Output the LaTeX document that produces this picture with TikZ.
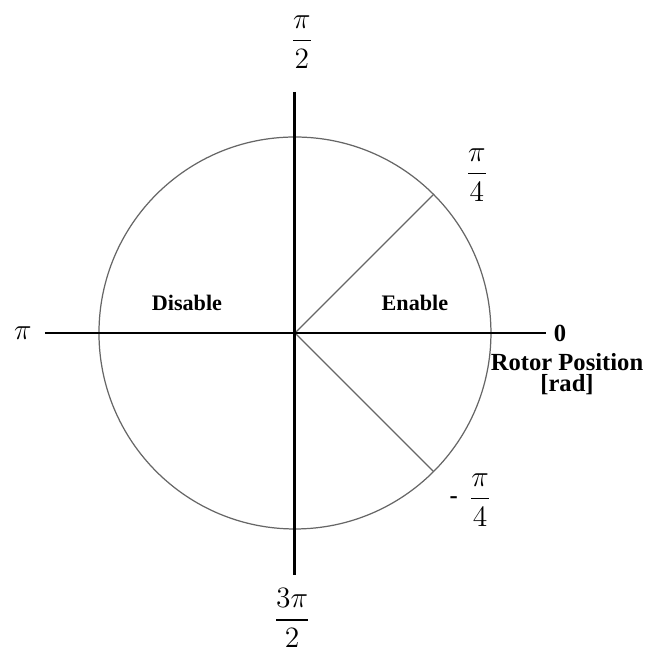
\documentclass[tikz,border=0pt]{standalone}
\usepackage{amsmath}
\usepackage{fontspec}
\setmainfont{Liberation Serif}
\tikzset{
  axis/.style={line width=1.2pt},
  ring/.style={gray!80!black, line width=0.5pt},
  zone/.style={font=\bfseries\fontsize{9}{11}\selectfont},
  unit/.style={font=\bfseries\fontsize{10}{12}\selectfont},
  angle/.style={font=\large}
}
\begin{document}
\begin{tikzpicture}[scale=1.4]
  \useasboundingbox (-3.010,-3.235) rectangle (3.622,3.398);
  \coordinate (O) at (0,0);
  \coordinate (W) at (-2.551,0);
  \coordinate (E) at (2.562,0);
  \coordinate (N) at (0,2.459);
  \coordinate (S) at (0,-2.469);
  \coordinate (P1) at (45:2);
  \coordinate (P2) at (-45:2);
  % circle and sector lines
  \draw[ring] (O) circle (2);
  \draw[ring] (O) -- (P1);
  \draw[ring] (O) -- (P2);
  % axes
  \draw[axis] (W) -- (E);
  \draw[axis] (N) -- (S);
  % angle labels
  \node[angle] (half) at (0.07,2.97) {$\dfrac{\pi}{2}$};
  \node[angle] (quart) at (1.857,1.612) {$\dfrac{\pi}{4}$};
  \node[angle] (mquart) at (1.888,-1.704) {$\dfrac{\pi}{4}$};
  \node[font=\bfseries] (minus) at (1.62,-1.704) {-};
  \node[angle] (threehalf) at (-0.03,-2.908) {$\dfrac{3\pi}{2}$};
  \node[angle] (pi) at (-2.776,0) {$\pi$};
  \node[unit] (zero) at (2.704,0) {0};
  \node[unit] (rotor) at (2.776,-0.296) {Rotor Position};
  \node[unit] (rad) at (2.776,-0.53) {[rad]};
  % regions
  \node[zone] (disable) at (-1.102,0.306) {Disable};
  \node[zone] (enable) at (1.224,0.306) {Enable};
\end{tikzpicture}
\end{document}
